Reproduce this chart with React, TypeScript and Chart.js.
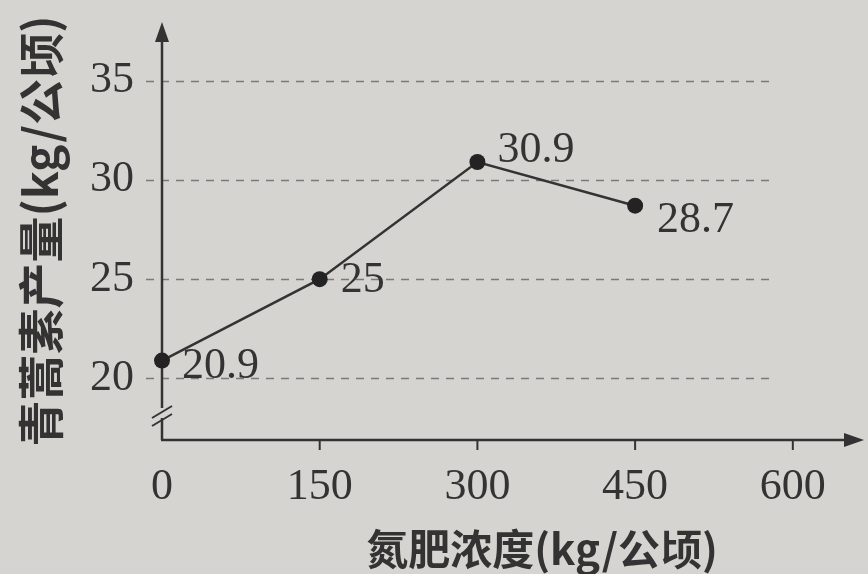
import React, { useEffect, useRef } from "react";
import { Chart, registerables } from "chart.js";

Chart.register(...registerables);

// ---- data ----
const xValues = [0, 150, 300, 450];
const yValues = [20.9, 25, 30.9, 28.7];
const pointLabels = ["20.9", "25", "30.9", "28.7"];
const xTicks = [0, 150, 300, 450, 600];
const yTicks = [20, 25, 30, 35];
const xTitle = "氮肥浓度(kg/公顷)";
const yTitle = "青蒿素产量(kg/公顷)";

// ---- style ----
const BG = "#d6d4d0";
const INK = "#333333";
const GRID = "#7a7a7a";
const NUM_FONT = "'Liberation Serif', 'DejaVu Serif', serif";
const CJK_FONT = "'Noto Sans CJK SC', 'Noto Sans', sans-serif";
const GRID_END = 580;
const labelOffsets: [number, number][] = [
  [20, 6],
  [21, 1],
  [20, -12],
  [22, 15],
];

const decor = {
  id: "decor",
  beforeDraw(chart: any) {
    const { ctx, width, height } = chart;
    ctx.save();
    ctx.fillStyle = BG;
    ctx.fillRect(0, 0, width, height);
    ctx.restore();
  },
  beforeDatasetsDraw(chart: any) {
    const { ctx, chartArea } = chart;
    const x = chart.scales.x;
    const y = chart.scales.y;
    const x0 = x.getPixelForValue(0);
    const y0 = chartArea.bottom;
    ctx.save();
    // dashed grid lines
    ctx.strokeStyle = GRID;
    ctx.lineWidth = 1.5;
    ctx.setLineDash([8, 7]);
    yTicks.forEach((v) => {
      const py = Math.round(y.getPixelForValue(v)) + 0.5;
      ctx.beginPath();
      ctx.moveTo(x0 - 16, py);
      ctx.lineTo(x.getPixelForValue(GRID_END), py);
      ctx.stroke();
    });
    ctx.setLineDash([]);
    // axes
    ctx.strokeStyle = INK;
    ctx.lineWidth = 2.5;
    ctx.beginPath();
    ctx.moveTo(x0, y0);
    ctx.lineTo(x0, chartArea.top + 8);
    ctx.stroke();
    ctx.beginPath();
    ctx.moveTo(x0 - 1, y0);
    ctx.lineTo(chartArea.right - 4, y0);
    ctx.stroke();
    // arrowheads
    ctx.fillStyle = INK;
    ctx.beginPath();
    ctx.moveTo(x0, chartArea.top);
    ctx.lineTo(x0 - 7, chartArea.top + 20);
    ctx.lineTo(x0 + 7, chartArea.top + 20);
    ctx.closePath();
    ctx.fill();
    ctx.beginPath();
    ctx.moveTo(chartArea.right + 6, y0);
    ctx.lineTo(chartArea.right - 14, y0 - 7);
    ctx.lineTo(chartArea.right - 14, y0 + 7);
    ctx.closePath();
    ctx.fill();
    // x tick marks
    ctx.lineWidth = 2;
    xTicks.slice(1).forEach((v) => {
      const px = x.getPixelForValue(v);
      ctx.beginPath();
      ctx.moveTo(px, y0);
      ctx.lineTo(px, y0 + 10);
      ctx.stroke();
    });
    // axis break marks
    ctx.fillStyle = BG;
    ctx.fillRect(x0 - 3, y0 - 32, 6, 10);
    ctx.lineWidth = 2;
    ctx.beginPath();
    ctx.moveTo(x0 - 10, y0 - 22);
    ctx.lineTo(x0 + 10, y0 - 34);
    ctx.moveTo(x0 - 10, y0 - 14);
    ctx.lineTo(x0 + 10, y0 - 26);
    ctx.stroke();
    ctx.restore();
  },
  afterDatasetsDraw(chart: any) {
    const { ctx } = chart;
    const meta = chart.getDatasetMeta(0);
    ctx.save();
    ctx.fillStyle = INK;
    ctx.font = `44px ${NUM_FONT}`;
    ctx.textAlign = "left";
    ctx.textBaseline = "middle";
    meta.data.forEach((pt: any, i: number) => {
      const [dx, dy] = labelOffsets[i];
      ctx.fillText(pointLabels[i], pt.x + dx, pt.y + dy);
    });
    // x axis title
    ctx.font = `bold 42px ${CJK_FONT}`;
    ctx.textAlign = "center";
    ctx.fillText(xTitle, 542, 549);
    ctx.restore();
  },
};

export default function App() {
  const ref = useRef<HTMLCanvasElement>(null);
  useEffect(() => {
    const chart = new Chart(ref.current as HTMLCanvasElement, {
      type: "line",
      data: {
        datasets: [
          {
            data: xValues.map((v, i) => ({ x: v, y: yValues[i] })),
            borderColor: INK,
            borderWidth: 2.5,
            pointRadius: 8,
            pointBackgroundColor: "#232323",
            pointBorderWidth: 0,
            tension: 0,
            clip: false as any,
          },
        ],
      },
      options: {
        animation: false,
        responsive: false,
        devicePixelRatio: 1,
        layout: { padding: { top: 22, right: 10, left: 0, bottom: 0 } },
        plugins: { legend: { display: false }, tooltip: { enabled: false } },
        scales: {
          x: {
            type: "linear",
            min: 0,
            max: 662,
            grid: { display: false },
            border: { display: false },
            afterBuildTicks: (s: any) => {
              s.ticks = xTicks.map((v) => ({ value: v }));
            },
            afterFit: (s: any) => {
              s.height = 134;
              s.paddingLeft = 0;
              s.paddingRight = 0;
            },
            ticks: {
              color: INK,
              padding: 13,
              font: { family: NUM_FONT, size: 44 },
              maxRotation: 0,
              autoSkip: false,
            },
          },
          y: {
            type: "linear",
            min: 16.9,
            max: 37.95,
            grid: { display: false },
            border: { display: false },
            afterBuildTicks: (s: any) => {
              s.ticks = yTicks.map((v) => ({ value: v }));
            },
            afterFit: (s: any) => {
              s.width = 162;
              s.paddingTop = 0;
              s.paddingBottom = 0;
            },
            ticks: {
              color: INK,
              padding: 20,
              font: { family: NUM_FONT, size: 44 },
              autoSkip: false,
            },
            title: {
              display: true,
              text: yTitle,
              color: INK,
              font: { family: CJK_FONT, size: 46, weight: "bold", lineHeight: 1.2 },
              padding: { top: 13, bottom: 0 },
            },
          },
        },
      },
      plugins: [decor],
    });
    return () => chart.destroy();
  }, []);
  return (
    <div style={{ position: "fixed", left: 0, top: 0, width: 868, height: 574 }}>
      <canvas ref={ref} width={868} height={574} style={{ display: "block" }} />
    </div>
  );
}
